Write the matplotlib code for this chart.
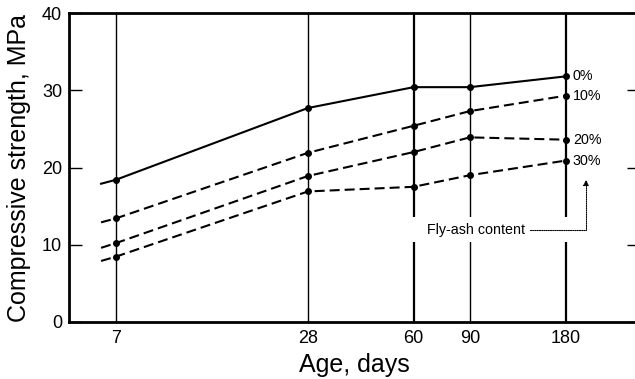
import numpy as np
import matplotlib.pyplot as plt
from matplotlib.patches import Rectangle

plt.rcParams['font.family'] = ['Liberation Sans', 'DejaVu Sans']

# ages (days) where the tests were made, plus the start of the drawn lines
ages = [7, 28, 60, 90, 180]
line_start = 6.3
age_labels = ['7', '28', '60', '90', '180']

# compressive strength, MPa, per fly-ash content
start_vals = [17.9, 12.9, 9.6, 7.9]
s0 = [18.4, 27.7, 30.4, 30.4, 31.8]
s10 = [13.4, 21.9, 25.4, 27.3, 29.3]
s20 = [10.2, 18.9, 22.0, 23.9, 23.6]
s30 = [8.45, 16.9, 17.5, 19.0, 20.9]
series = [s0, s10, s20, s30]
names = ['0%', '10%', '20%', '30%']

fig = plt.figure(figsize=(6.35, 3.79), dpi=100)
ax = fig.add_axes([69 / 635, 57 / 379, 571 / 635, 309 / 379])
ax.set_xscale('log')
ax.set_xlim(5, 307)
ax.set_ylim(0, 40)

# vertical guide lines at each test age
vlw = [1.0, 1.0, 1.6, 1.0, 1.6]
for a, lw in zip(ages, vlw):
    ax.axvline(a, color='black', lw=lw, zorder=1)

dash = (0, (4.8, 2.4))
for i, (vals, name) in enumerate(zip(series, names)):
    ls = '-' if i == 0 else dash
    ax.plot([line_start] + ages, [start_vals[i]] + vals, color='black',
            lw=1.5, ls=ls, zorder=3)
    ax.plot(ages, vals, 'o', color='black', ms=4, zorder=4)
    ax.annotate(name, xy=(ages[-1], vals[-1]), xytext=(5, 0),
                textcoords='offset points', va='center', ha='left',
                fontsize=10.3, zorder=5)

# white box breaking the vertical lines behind the note
ax.add_patch(Rectangle((0.588, 0.259), 0.298, 0.081, transform=ax.transAxes,
                       facecolor='white', edgecolor='none', zorder=2))
ax.annotate('Fly-ash content', xy=(208, 18.4), xytext=(66, 11.9),
            va='center', ha='left', fontsize=10.3, zorder=6,
            arrowprops=dict(arrowstyle='-|>', color='black', lw=0.8,
                            ls=(0, (1, 1)), shrinkA=2, shrinkB=0,
                            mutation_scale=8,
                            connectionstyle='angle,angleA=0,angleB=90,rad=0'))

ax.set_xticks(ages)
ax.set_xticklabels(age_labels)
ax.minorticks_off()
ax.tick_params(axis='x', length=0, pad=6, labelsize=13)
ax.set_yticks([0, 10, 20, 30, 40])
ax.tick_params(axis='y', direction='in', length=9.5, width=1, pad=5,
               labelsize=13, right=True)

ax.spines['right'].set_visible(False)
for s in ['left', 'top', 'bottom']:
    ax.spines[s].set_linewidth(2)

ax.set_xlabel('Age, days', fontsize=18, labelpad=4)
ax.set_ylabel('Compressive strength, MPa', fontsize=18, labelpad=8)

fig.savefig('out.png', dpi=100)
